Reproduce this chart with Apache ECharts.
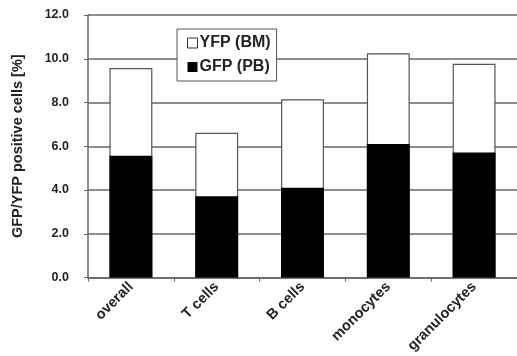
<!DOCTYPE html>
<html>
<head>
<meta charset="utf-8">
<style>html,body{margin:0;padding:0;background:#fff}#c{width:517px;height:356px}</style>
<script src="https://cdn.jsdelivr.net/npm/echarts@6/dist/echarts.min.js"></script>
</head>
<body>
<div id="c"></div>
<script>
const categories = ['overall', 'T cells', 'B cells', 'monocytes', 'granulocytes'];
const yfpTotal = [9.58, 6.62, 8.15, 10.25, 9.77];
const gfpValues = [5.57, 3.72, 4.1, 6.1, 5.72];
const yTicks = [0, 2, 4, 6, 8, 10, 12];

const chart = echarts.init(document.getElementById('c'));
const font = 'Liberation Sans, Arial, sans-serif';
chart.setOption({
  animation: false,
  backgroundColor: '#fff',
  grid: { left: 88, top: 15, width: 432, height: 262.5, containLabel: false },
  legend: {
    orient: 'vertical',
    left: 177, top: 29,
    width: 100,
    padding: [6, 6, 6, 10],
    icon: 'rect',
    itemWidth: 10, itemHeight: 10, itemGap: 8,
    borderColor: '#555', borderWidth: 1,
    backgroundColor: '#fff',
    textStyle: { fontFamily: font, fontWeight: 'bold', fontSize: 16, color: '#222', padding: [0, 0, 0, -3] },
    data: [
      { name: 'YFP (BM)', itemStyle: { color: '#fff', borderColor: '#333', borderWidth: 1 } },
      { name: 'GFP (PB)', itemStyle: { color: '#000' } }
    ]
  },
  xAxis: {
    type: 'category',
    data: categories,
    axisLine: { lineStyle: { color: '#666', width: 1.5 } },
    axisTick: { show: true, length: 4, lineStyle: { color: '#666' } },
    axisLabel: { rotate: 45, margin: 7, fontFamily: font, fontWeight: 'bold', fontSize: 14.5, color: '#222' }
  },
  yAxis: {
    type: 'value',
    min: 0, max: 12, interval: 2,
    name: 'GFP/YFP positive cells [%]',
    nameLocation: 'middle',
    nameGap: 63,
    nameTextStyle: { fontFamily: font, fontWeight: 'bold', fontSize: 14.5, color: '#222' },
    axisLine: { show: true, lineStyle: { color: '#666', width: 1.5 } },
    axisTick: { show: true, length: 4, lineStyle: { color: '#666' } },
    splitLine: { lineStyle: { color: '#666', width: 1.5 } },
    axisLabel: {
      margin: 19, fontFamily: font, fontWeight: 'bold', fontSize: 12.5, color: '#222',
      formatter: v => yTicks.includes(v) ? v.toFixed(1) : ''
    }
  },
  series: [
    {
      name: 'YFP (BM)', type: 'bar', data: yfpTotal, barWidth: '50%', barGap: '-100%',
      itemStyle: { color: '#fff', borderColor: '#555', borderWidth: 1.2 }, z: 2
    },
    {
      name: 'GFP (PB)', type: 'bar', data: gfpValues, barWidth: '50%',
      itemStyle: { color: '#000', borderColor: '#000', borderWidth: 0 }, z: 3
    }
  ]
});
</script>
</body>
</html>
